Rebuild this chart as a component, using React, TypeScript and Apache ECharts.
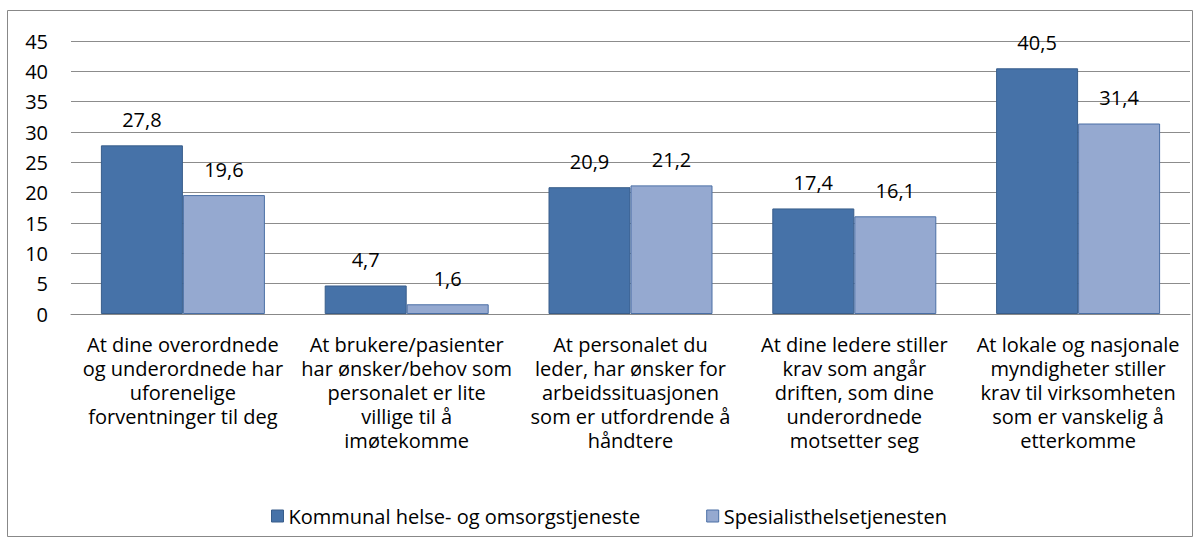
import React, { useEffect, useRef } from "react";
import * as echarts from "echarts";

const categories = [
  "At dine overordnede\nog underordnede har\nuforenelige\nforventninger til deg",
  "At brukere/pasienter\nhar ønsker/behov som\npersonalet er lite\nvillige til å\nimøtekomme",
  "At personalet du\nleder, har ønsker for\narbeidssituasjonen\nsom er utfordrende å\nhåndtere",
  "At dine ledere stiller\nkrav som angår\ndriften, som dine\nunderordnede\nmotsetter seg",
  "At lokale og nasjonale\nmyndigheter stiller\nkrav til virksomheten\nsom er vanskelig å\netterkomme",
];
const kommunal = [27.8, 4.7, 20.9, 17.4, 40.5];
const spesialist = [19.6, 1.6, 21.2, 16.1, 31.4];
const seriesNames = ["Kommunal helse- og omsorgstjeneste", "Spesialisthelsetjenesten"];

const FONT = "'Open Sans', 'Noto Sans', sans-serif";
const FS = 20;

export default function App() {
  const ref = useRef<HTMLDivElement>(null);
  useEffect(() => {
    document.body.style.margin = "0";
    const chart = echarts.init(ref.current!, null, { renderer: "svg" });
    const label = {
      show: true,
      position: "top",
      distance: 16,
      color: "#000",
      fontSize: FS,
      fontFamily: FONT,
      formatter: (p: any) => String(p.value).replace(".", ","),
    };
    chart.setOption({
      animation: false,
      backgroundColor: "#fff",
      textStyle: { fontFamily: FONT },
      grid: { left: 71, right: 10, top: 41, bottom: 230, containLabel: false },
      graphic: [
        {
          type: "rect",
          shape: { x: 7.5, y: 10.5, width: 1185, height: 526 },
          style: { fill: "none", stroke: "#888", lineWidth: 1 },
          silent: true,
        },
      ],
      legend: {
        top: 501,
        left: 266,
        itemWidth: 12,
        itemHeight: 12,
        itemGap: 66,
        icon: "rect",
        textStyle: { fontSize: FS, color: "#000", fontFamily: FONT },
        data: seriesNames.map((n, i) => ({
          name: n,
          itemStyle: { borderColor: i === 0 ? "#385D8A" : "#4A6FA5", borderWidth: 1 },
        })),
      },
      xAxis: {
        type: "category",
        data: categories,
        axisTick: { show: false },
        axisLine: { lineStyle: { color: "#888" } },
        axisLabel: {
          interval: 0,
          margin: 18,
          fontSize: FS,
          lineHeight: 24,
          color: "#000",
          fontFamily: FONT,
        },
      },
      yAxis: {
        type: "value",
        min: 0,
        max: 45,
        interval: 5,
        axisLine: { show: false },
        axisTick: { show: false },
        splitLine: { lineStyle: { color: "#8c8c8c" } },
        axisLabel: { fontSize: FS, color: "#000", margin: 23, fontFamily: FONT },
      },
      series: [
        {
          name: seriesNames[0],
          type: "bar",
          data: kommunal,
          barWidth: 82,
          barGap: "0%",
          itemStyle: { color: "#4672A8", borderColor: "#385D8A", borderWidth: 1 },
          label,
        },
        {
          name: seriesNames[1],
          type: "bar",
          data: spesialist,
          barWidth: 82,
          barGap: "0%",
          itemStyle: { color: "#95A9D0", borderColor: "#4A6FA5", borderWidth: 1 },
          label,
        },
      ],
    });
    return () => chart.dispose();
  }, []);
  return <div ref={ref} style={{ width: 1200, height: 544 }} />;
}
